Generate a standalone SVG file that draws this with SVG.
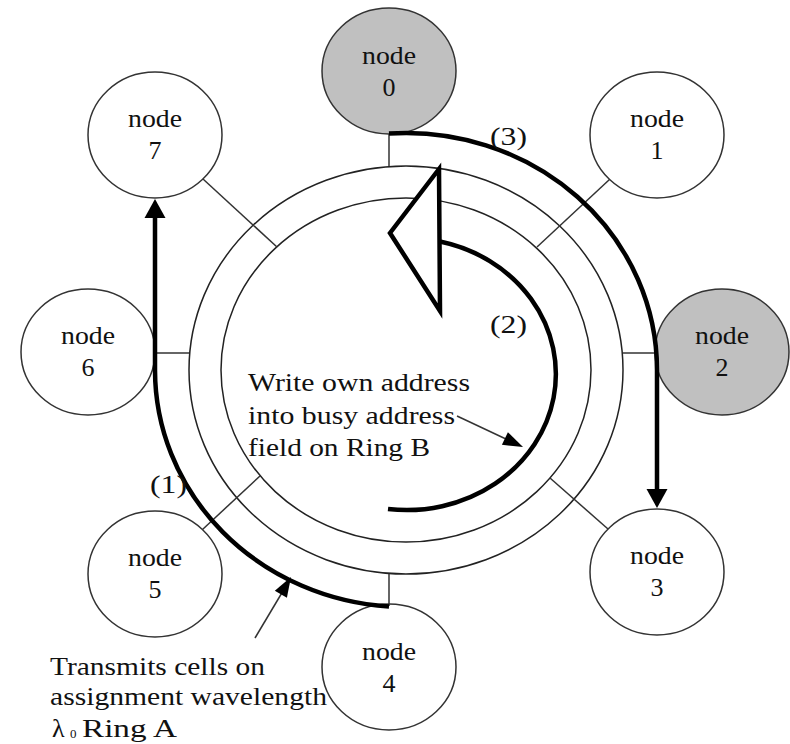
<svg xmlns="http://www.w3.org/2000/svg" width="790" height="744" viewBox="0 0 790 744">
<style>
.ring{fill:none;stroke:#222;stroke-width:1.5}
.thin{fill:none;stroke:#333;stroke-width:1.5}
.thick{fill:none;stroke:#000;stroke-width:4.5}
.head{fill:#000;stroke:none}
.node ellipse{fill:#fff;stroke:#333;stroke-width:1.5}
.node.grey ellipse{fill:#c0c0c0}
text{font-family:"Liberation Serif","Times New Roman",serif;font-size:26px;fill:#111}
text.sub{font-size:13px}
.lbl{text-anchor:middle}
</style>
<rect width="790" height="744" fill="#fff"/>
<g id="rings">
<ellipse class="ring" cx="406" cy="370" rx="217" ry="204"/>
<ellipse class="ring" cx="406" cy="370" rx="185" ry="172"/>
</g>
<g id="node0" class="node grey"><ellipse cx="389" cy="71" rx="67" ry="63"/><text class="lbl" x="389" y="64" textLength="54" lengthAdjust="spacingAndGlyphs">node</text><text class="lbl" x="389" y="96">0</text></g>
<g id="node1" class="node"><ellipse cx="657" cy="135" rx="67" ry="63"/><text class="lbl" x="657" y="127" textLength="54" lengthAdjust="spacingAndGlyphs">node</text><text class="lbl" x="657" y="159">1</text></g>
<g id="node2" class="node grey"><ellipse cx="722" cy="352" rx="67" ry="63"/><text class="lbl" x="722" y="344" textLength="54" lengthAdjust="spacingAndGlyphs">node</text><text class="lbl" x="722" y="376">2</text></g>
<g id="node3" class="node"><ellipse cx="657" cy="572" rx="67" ry="63"/><text class="lbl" x="657" y="564" textLength="54" lengthAdjust="spacingAndGlyphs">node</text><text class="lbl" x="657" y="596">3</text></g>
<g id="node4" class="node"><ellipse cx="389" cy="667" rx="67" ry="63"/><text class="lbl" x="389" y="660" textLength="54" lengthAdjust="spacingAndGlyphs">node</text><text class="lbl" x="389" y="692">4</text></g>
<g id="node5" class="node"><ellipse cx="155" cy="574" rx="67" ry="63"/><text class="lbl" x="155" y="566" textLength="54" lengthAdjust="spacingAndGlyphs">node</text><text class="lbl" x="155" y="598">5</text></g>
<g id="node6" class="node"><ellipse cx="88" cy="352" rx="67" ry="63"/><text class="lbl" x="88" y="344" textLength="54" lengthAdjust="spacingAndGlyphs">node</text><text class="lbl" x="88" y="376">6</text></g>
<g id="node7" class="node"><ellipse cx="155" cy="135" rx="67" ry="63"/><text class="lbl" x="155" y="127" textLength="54" lengthAdjust="spacingAndGlyphs">node</text><text class="lbl" x="155" y="159">7</text></g>
<g id="connectors">
<line class="thin" x1="389" y1="134" x2="389" y2="166"/>
<line class="thin" x1="389" y1="574" x2="389" y2="606"/>
<line class="thin" x1="155" y1="353" x2="189" y2="353"/>
<line class="thin" x1="623" y1="353" x2="657" y2="353"/>
<line class="thin" x1="203" y1="179" x2="277" y2="247"/>
<line class="thin" x1="609.5" y1="179.5" x2="537" y2="247"/>
<line class="thin" x1="608" y1="529" x2="550" y2="478"/>
<line class="thin" x1="202.5" y1="529.5" x2="260" y2="476"/>
<path class="thick" d="M389,133.5 A251,237 0 0 1 657,370 L657,492"/>
<polygon class="head" points="657,508 646.5,489 667.5,489"/>
<path class="thick" d="M389,606.5 A251,237 0 0 1 155,370 L155,216"/>
<polygon class="head" points="155,199 144.5,218 165.5,218"/>
<path class="thick" d="M388,509 A149,136 0 0 0 440,241.5"/>
<polygon points="439,169 390,233 440,311" fill="#fff" stroke="#000" stroke-width="4.5"/>
<line class="thin" x1="457" y1="416" x2="507" y2="439.5"/>
<polygon class="head" points="523,447 501.9,444.8 507.9,432.2"/>
<line class="thin" x1="255" y1="638" x2="283" y2="591"/>
<polygon class="head" points="291,577 286.9,597.8 274.8,590.7"/>
</g>
<g id="labels">
<text x="490" y="145" textLength="37" lengthAdjust="spacingAndGlyphs">(3)</text>
<text x="490" y="333" textLength="37" lengthAdjust="spacingAndGlyphs">(2)</text>
<text x="150" y="493" textLength="37" lengthAdjust="spacingAndGlyphs">(1)</text>
<text x="248" y="391" textLength="222" lengthAdjust="spacingAndGlyphs">Write own address</text>
<text x="248" y="423.5" textLength="207" lengthAdjust="spacingAndGlyphs">into busy address</text>
<text x="248" y="456" textLength="182" lengthAdjust="spacingAndGlyphs">field on Ring B</text>
<text x="50" y="675" textLength="215" lengthAdjust="spacingAndGlyphs">Transmits cells on</text>
<text x="50" y="705" textLength="277" lengthAdjust="spacingAndGlyphs">assignment wavelength</text>
<text x="52" y="737">λ</text>
<text class="sub" x="70" y="738">0</text>
<text x="82" y="737" textLength="95" lengthAdjust="spacingAndGlyphs">Ring A</text>
</g>
</svg>
